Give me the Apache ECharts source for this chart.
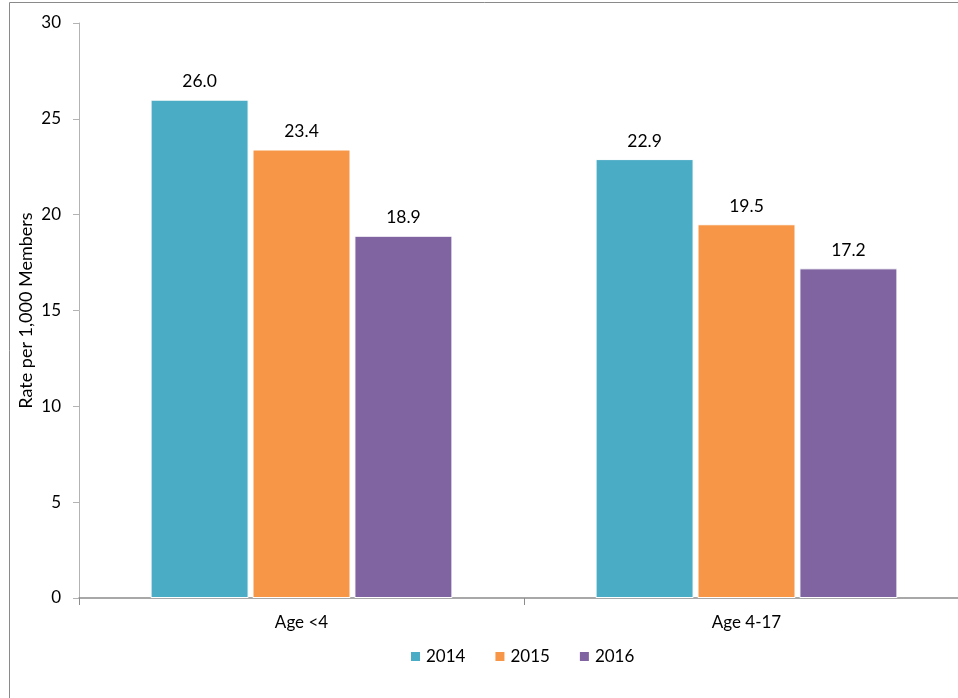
<!DOCTYPE html>
<html><head><meta charset="utf-8">
<script src="https://cdn.jsdelivr.net/npm/echarts@6/dist/echarts.min.js"></script>
<style>html,body{margin:0;padding:0;background:#fff}#c{width:958px;height:698px}</style>
</head><body><div id="c"></div>
<script>
var categories = ['Age <4', 'Age 4-17'];
var seriesNames = ['2014', '2015', '2016'];
var v2014 = [26.0, 22.9];
var v2015 = [23.4, 19.5];
var v2016 = [18.9, 17.2];
var yTicks = [0, 5, 10, 15, 20, 25, 30];
var colors = ['#4BACC6', '#F79646', '#8064A2'];
var FONT = 'Lato, "Open Sans", sans-serif';
var chart = echarts.init(document.getElementById('c'));
function mk(name, data, i) {
  return {
    name: name, type: 'bar', data: data, barWidth: 98, barGap: '4%',
    itemStyle: { color: colors[i], borderColor: '#fff', borderWidth: 1 },
    label: { show: true, position: 'top', distance: 9, color: '#000', fontSize: 17.5, fontFamily: FONT,
      formatter: function (p) { return p.value.toFixed(1); } }
  };
}
chart.setOption({
  animation: false,
  graphic: [{ type: 'rect', shape: { x: 9.5, y: 2.5, width: 960, height: 700 }, style: { fill: 'none', stroke: '#8a8a8a', lineWidth: 1 } }],
  grid: { left: 79, width: 890, top: 23, bottom: 100, containLabel: false, outerBoundsMode: 'none' },
  legend: {
    data: seriesNames, top: 643, left: 404, itemWidth: 11, itemHeight: 11, itemGap: 28,
    icon: 'rect', textStyle: { fontSize: 17, fontFamily: FONT, color: '#000' }
  },
  xAxis: {
    type: 'category', data: categories,
    axisLine: { lineStyle: { color: '#8c8c8c', width: 1.5 } },
    axisTick: { show: true, length: 7, lineStyle: { color: '#8c8c8c' } },
    axisLabel: { fontSize: 17, fontFamily: FONT, color: '#000', margin: 16 }
  },
  yAxis: {
    type: 'value', min: yTicks[0], max: yTicks[yTicks.length - 1], interval: 5,
    name: 'Rate per 1,000 Members', nameLocation: 'middle', nameGap: 44, nameMoveOverlap: false,
    nameTextStyle: { fontSize: 18, fontFamily: FONT, color: '#000' },
    axisLine: { show: true, lineStyle: { color: '#b3b3b3' } },
    axisTick: { show: true, length: 6, lineStyle: { color: '#b3b3b3' } },
    splitLine: { show: false },
    axisLabel: { fontSize: 17, fontFamily: FONT, color: '#000', margin: 18 }
  },
  series: [mk(seriesNames[0], v2014, 0), mk(seriesNames[1], v2015, 1), mk(seriesNames[2], v2016, 2)]
});
</script></body></html>
